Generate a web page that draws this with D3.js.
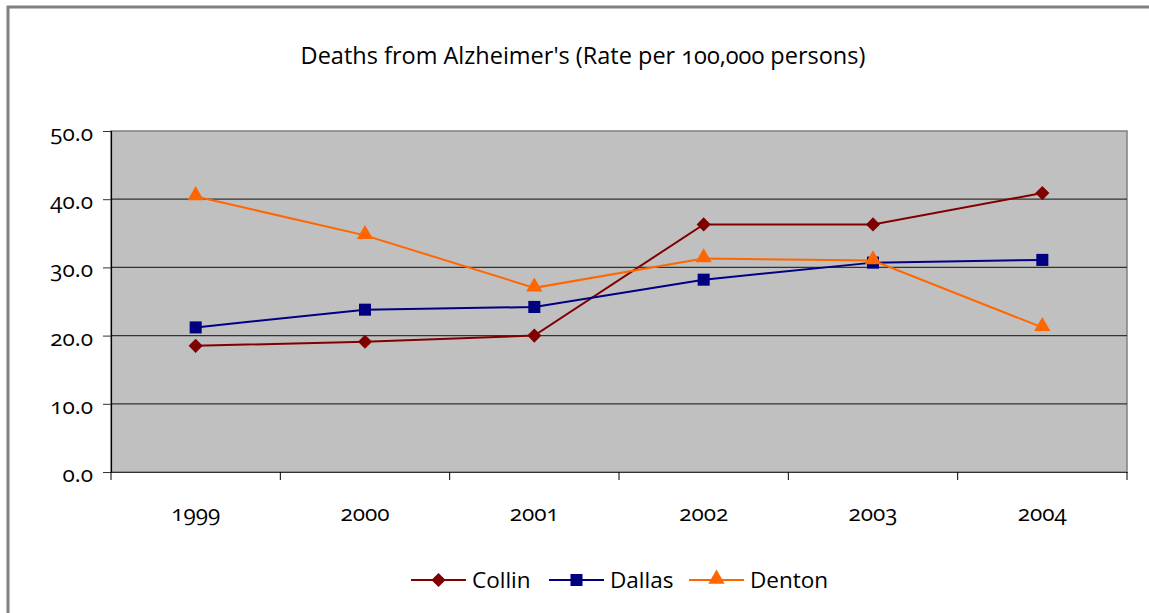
<!DOCTYPE html>
<html><head><meta charset="utf-8">
<script src="https://cdn.jsdelivr.net/npm/d3@7"></script>
<style>
body{margin:0;background:#fff;}
text{font-family:"Open Sans","DejaVu Sans",sans-serif;font-variant-numeric:oldstyle-nums;fill:#000;}
</style></head>
<body><svg id="c" width="1149" height="613"></svg>
<script>
const title = "Deaths from Alzheimer's (Rate per 100,000 persons)";
const years = ["1999","2000","2001","2002","2003","2004"];
const yTicks = [0,10,20,30,40,50];
const seriesNames = ["Collin","Dallas","Denton"];
const collin = [18.5, 19.1, 20.0, 36.3, 36.3, 40.9];
const dallas = [21.2, 23.8, 24.2, 28.2, 30.7, 31.1];
const denton = [40.4, 34.7, 27.0, 31.3, 31.0, 21.2];
const colors = ["#800000","#000080","#FF6600"];

const series = [collin, dallas, denton];
const svg = d3.select("#c");

function marker(k){
  if(k===0) return {d:d3.symbol().type(d3.symbolSquare).size(100)(), rot:45, dy:0};
  if(k===1) return {d:d3.symbol().type(d3.symbolSquare).size(145)(), rot:0, dy:0};
  return {d:d3.symbol().type(d3.symbolTriangle).size(115)(), rot:0, dy:-1};
}

// outer frame
svg.append("path").attr("d","M8,613 V7 H1149").attr("fill","none").attr("stroke","#808080").attr("stroke-width",3);

const L=111, R=1127, T=131, B=472;
const x = d3.scaleBand().domain(years).range([L,R]);
const y = d3.scaleLinear().domain([0,50]).range([B,T]);

svg.append("rect").attr("x",L).attr("y",T).attr("width",R-L).attr("height",B-T)
  .attr("fill","#C0C0C0").attr("stroke","#808080").attr("stroke-width",1.5);

// gridlines
svg.append("g").selectAll("line").data(yTicks.filter(d=>d>0&&d<50)).join("line")
  .attr("x1",L).attr("x2",R).attr("y1",d=>y(d)).attr("y2",d=>y(d))
  .attr("stroke","#333").attr("stroke-width",1.2);

// y axis
const ya = svg.append("g").attr("transform",`translate(${L},0)`)
  .call(d3.axisLeft(y).tickValues(yTicks).tickFormat(d3.format(".1f")).tickSize(8).tickPadding(10));
ya.select(".domain").attr("stroke","#000").attr("stroke-width",1.2);
ya.selectAll(".tick line").attr("stroke","#333");
ya.selectAll("text").attr("font-size",22.5).attr("fill","#000").attr("font-family",null).attr("dy","0.42em");

// x axis
const xa = svg.append("g").attr("transform",`translate(0,${B})`)
  .call(d3.axisBottom(x).tickSize(0).tickPadding(33));
xa.select(".domain").attr("stroke","#333").attr("stroke-width",1.2);
xa.selectAll("text").attr("font-size",22.5).attr("fill","#000").attr("font-family",null);
xa.append("g").selectAll("line").data(years.concat(["_end"])).join("line")
  .attr("x1",(d,i)=> i<years.length ? x(d) : R).attr("x2",(d,i)=> i<years.length ? x(d) : R)
  .attr("y1",0).attr("y2",8).attr("stroke","#000").attr("stroke-width",1);

// lines and markers
const line = d3.line().x((d,i)=>x(years[i])+x.bandwidth()/2).y(d=>y(d));
series.forEach((s,k)=>{
  svg.append("path").datum(s).attr("d",line).attr("fill","none")
    .attr("stroke",colors[k]).attr("stroke-width",2);
});
series.forEach((s,k)=>{
  const m = marker(k);
  svg.append("g").selectAll("path").data(s).join("path")
    .attr("transform",(d,i)=>`translate(${x(years[i])+x.bandwidth()/2},${y(d)+m.dy}) rotate(${m.rot})`)
    .attr("d",m.d).attr("fill",colors[k]);
});

// title
svg.append("text").attr("x",583).attr("y",64).attr("text-anchor","middle")
  .attr("font-size",23.5).text(title);

// legend
const lx = [411, 549, 689];
const lg = svg.append("g");
seriesNames.forEach((n,k)=>{
  const g = lg.append("g").attr("transform",`translate(${lx[k]},580)`);
  g.append("line").attr("x1",0).attr("x2",55).attr("stroke",colors[k]).attr("stroke-width",2);
  const m = marker(k);
  g.append("path").attr("transform",`translate(27.5,${m.dy}) rotate(${m.rot})`)
    .attr("d",m.d).attr("fill",colors[k]);
  g.append("text").attr("x",61).attr("y",8).attr("font-size",22.5).text(n);
});
</script></body></html>
